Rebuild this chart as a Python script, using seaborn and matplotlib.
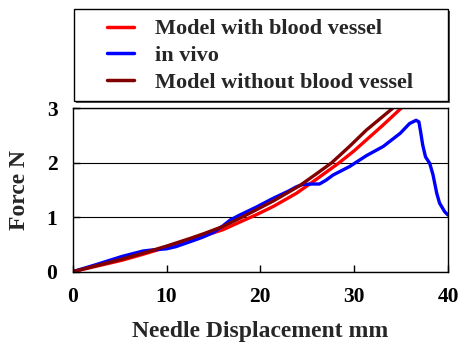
import numpy as np
import pandas as pd
import matplotlib
matplotlib.use("Agg")
import matplotlib.pyplot as plt
from matplotlib.patches import Rectangle
import seaborn as sns

# Needle insertion force curves (displacement in mm, force in N)
with_vessel_x = [0, 2.5, 5.25, 7.5, 10, 12.5, 14, 16, 17.8, 19.5, 21.4, 23.85,
                 26.0, 28.4, 30, 31.3, 33, 35.0]
with_vessel_y = [0, 0.10, 0.21, 0.32, 0.45, 0.58, 0.66, 0.77, 0.91, 1.04, 1.20,
                 1.44, 1.70, 2.0, 2.22, 2.42, 2.68, 3.0]

in_vivo_x = [0, 2.5, 5.25, 7.5, 8.5, 10, 11, 12.5, 13.8, 15, 16, 16.8, 17.8,
             19.5, 21.4, 23.0, 23.85, 24.5, 25.5, 26.3, 27.0, 27.75, 29.5, 31.3,
             33.1, 34.9, 35.9, 36.6, 36.9, 37.1, 37.3, 37.6, 38.05, 38.4, 38.8,
             39.1, 39.65, 40.0]
in_vivo_y = [0, 0.13, 0.28, 0.38, 0.40, 0.42, 0.46, 0.55, 0.63, 0.72, 0.84,
             0.95, 1.04, 1.18, 1.35, 1.48, 1.56, 1.60, 1.61, 1.61, 1.68, 1.775,
             1.93, 2.13, 2.30, 2.54, 2.72, 2.78, 2.75, 2.55, 2.33, 2.11, 1.99,
             1.78, 1.44, 1.26, 1.10, 1.04]

without_vessel_x = [0, 2.5, 5.25, 7.5, 10, 12.5, 14, 16, 17.8, 19.5, 21.4, 24.2,
                    26.0, 27.6, 29.5, 31.3, 34.1]
without_vessel_y = [0, 0.11, 0.23, 0.34, 0.47, 0.61, 0.70, 0.83, 0.98, 1.13,
                    1.30, 1.58, 1.80, 2.0, 2.30, 2.60, 3.0]

series_names = ["Model with blood vessel", "in vivo", "Model without blood vessel"]
series_colors = ["#ff0000", "#0000ff", "#800000"]

x_ticks = [0, 10, 20, 30, 40]
y_ticks = [0, 1, 2, 3]

frames = []
for name, xs, ys in zip(series_names,
                        [with_vessel_x, in_vivo_x, without_vessel_x],
                        [with_vessel_y, in_vivo_y, without_vessel_y]):
    frames.append(pd.DataFrame({"x": xs, "y": ys, "series": name}))
df = pd.concat(frames, ignore_index=True)

sns.set_style("ticks")
plt.rcParams["font.family"] = ["Liberation Serif", "DejaVu Serif"]
plt.rcParams["font.weight"] = "bold"

fig = plt.figure(figsize=(4.59, 3.44), dpi=100)
ax = fig.add_axes([72.7 / 459, 1 - 271.7 / 344, (448 - 72.7) / 459, (271.7 - 108.3) / 344])

sns.lineplot(data=df, x="x", y="y", hue="series", hue_order=series_names,
             palette=series_colors, estimator=None, sort=False,
             linewidth=2.4, ax=ax, legend=True)

ax.set_xlim(0, 40)
ax.set_ylim(0, 3)
ax.set_xticks(x_ticks)
ax.set_yticks(y_ticks)
ax.tick_params(direction="in", length=5, width=1, pad=11, labelsize=15.5,
               colors="black")
for lab in ax.get_xticklabels() + ax.get_yticklabels():
    lab.set_fontweight("bold")
ax.yaxis.grid(True, color="black", linewidth=0.8)
ax.xaxis.grid(False)
for s in ax.spines.values():
    s.set_visible(True)
    s.set_color("black")
    s.set_linewidth(1.0)

ax.set_xlabel("Needle Displacement mm", fontsize=17, fontweight="bold", labelpad=10)
ax.set_ylabel("Force N", fontsize=17, fontweight="bold", labelpad=12)

handles, labels = ax.get_legend_handles_labels()
ax.legend_.remove()
leg = fig.legend(handles, labels, loc="center",
                 bbox_to_anchor=((72 + 448) / 2 / 459, 1 - (11 + 101) / 2 / 344),
                 frameon=False, handlelength=1.2, handletextpad=0.95,
                 labelspacing=0.28, prop={"weight": "bold", "size": 16})
for h in leg.get_lines():
    h.set_linewidth(2.5)

# Legend frame with a slight drop shadow
fig.add_artist(Rectangle((76 / 459, 1 - 103 / 344), (448 - 74) / 459, 92 / 344,
                         transform=fig.transFigure, fill=True, fc="#555555",
                         ec="none", zorder=0))
fig.add_artist(Rectangle((74 / 459, 1 - 101 / 344), (448 - 74) / 459, 92 / 344,
                         transform=fig.transFigure, fill=True, fc="white",
                         ec="black", lw=1.0, zorder=1))
leg.set_zorder(2)

fig.savefig("out.png", dpi=100)
